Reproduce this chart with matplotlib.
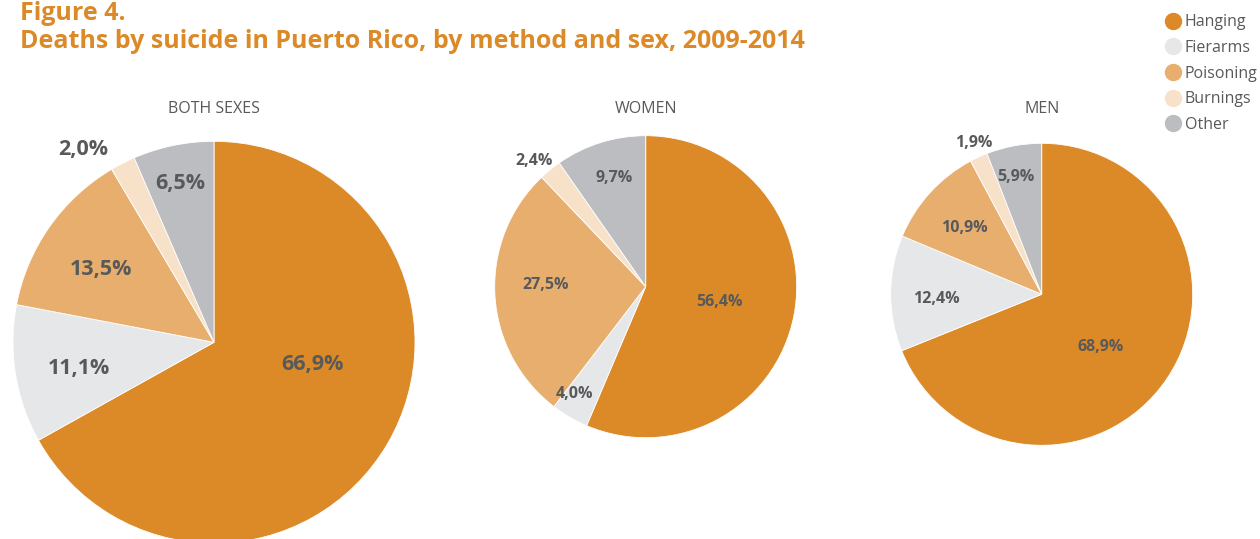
import matplotlib
matplotlib.use("Agg")
import matplotlib.pyplot as plt
from matplotlib.lines import Line2D

# ---------------------------------------------------------------------------
# Data
# ---------------------------------------------------------------------------
methods = ["Hanging", "Fierarms", "Poisoning", "Burnings", "Other"]
both_sexes = [66.9, 11.1, 13.5, 2.0, 6.5]
women = [56.4, 4.0, 27.5, 2.4, 9.7]
men = [68.9, 12.4, 10.9, 1.9, 5.9]
panel_titles = ["BOTH SEXES", "WOMEN", "MEN"]

colors = ["#DC8A28", "#E6E7E8", "#E8AE6D", "#F7E2C9", "#BCBDC1"]
orange = "#DC8A28"
grey_text = "#58595B"

# label positions in units of pie radius (x right, y up), same order as methods
label_pos = [
    [(0.49, -0.11), (-0.67, -0.13), (-0.56, 0.36), (-0.65, 0.96), (-0.17, 0.79)],
    [(0.49, -0.10), (-0.47, -0.71), (-0.66, 0.01), (-0.74, 0.83), (-0.21, 0.72)],
    [(0.39, -0.35), (-0.70, -0.03), (-0.51, 0.44), (-0.45, 1.00), (-0.17, 0.78)],
]
label_size = [15.5, 11.5, 11.5]

# pie centre (px) and radius (px) in a 1260x539 canvas
W, H = 1260, 539
pies = [(214, 342.3, 201), (645.7, 286.7, 151), (1041.7, 294.3, 151)]

plt.rcParams["font.family"] = ["Open Sans", "DejaVu Sans"]

fig = plt.figure(figsize=(W / 100, H / 100), dpi=100)

for values, title, (cx, cy, r), pos, fs in zip(
        [both_sexes, women, men], panel_titles, pies, label_pos, label_size):
    ax = fig.add_axes([(cx - r) / W, (H - cy - r) / H, 2 * r / W, 2 * r / H])
    ax.pie(values, colors=colors, startangle=90, counterclock=False,
           wedgeprops=dict(edgecolor="white", linewidth=0.6))
    ax.set_xlim(-1, 1)
    ax.set_ylim(-1, 1)
    ax.axis("off")
    for v, (lx, ly) in zip(values, pos):
        ax.text(lx, ly, f"{v:.1f}%".replace(".", ","), ha="center", va="center",
                fontsize=fs, fontweight="bold", color=grey_text, clip_on=False)
    fig.text(cx / W, 1 - 109 / H, title, ha="center", va="center",
             fontsize=11.5, color=grey_text)

# title
fig.text(20 / W, 1 - 14 / H, "Figure 4.", ha="left", va="center",
         fontsize=18, fontweight="bold", color=orange)
fig.text(20 / W, 1 - 42 / H,
         "Deaths by suicide in Puerto Rico, by method and sex, 2009-2014",
         ha="left", va="center", fontsize=18, fontweight="bold", color=orange)

# legend
handles = [Line2D([], [], marker="o", linestyle="none", markersize=11.5,
                  markerfacecolor=c, markeredgecolor=c) for c in colors]
fig.legend(handles, methods, loc="upper right", bbox_to_anchor=(1.008, 0.997),
           frameon=False, fontsize=11.5, labelcolor=grey_text,
           handletextpad=0.3, labelspacing=0.6, handlelength=0.9,
           borderpad=0.3)

fig.savefig("out.png", dpi=100)
